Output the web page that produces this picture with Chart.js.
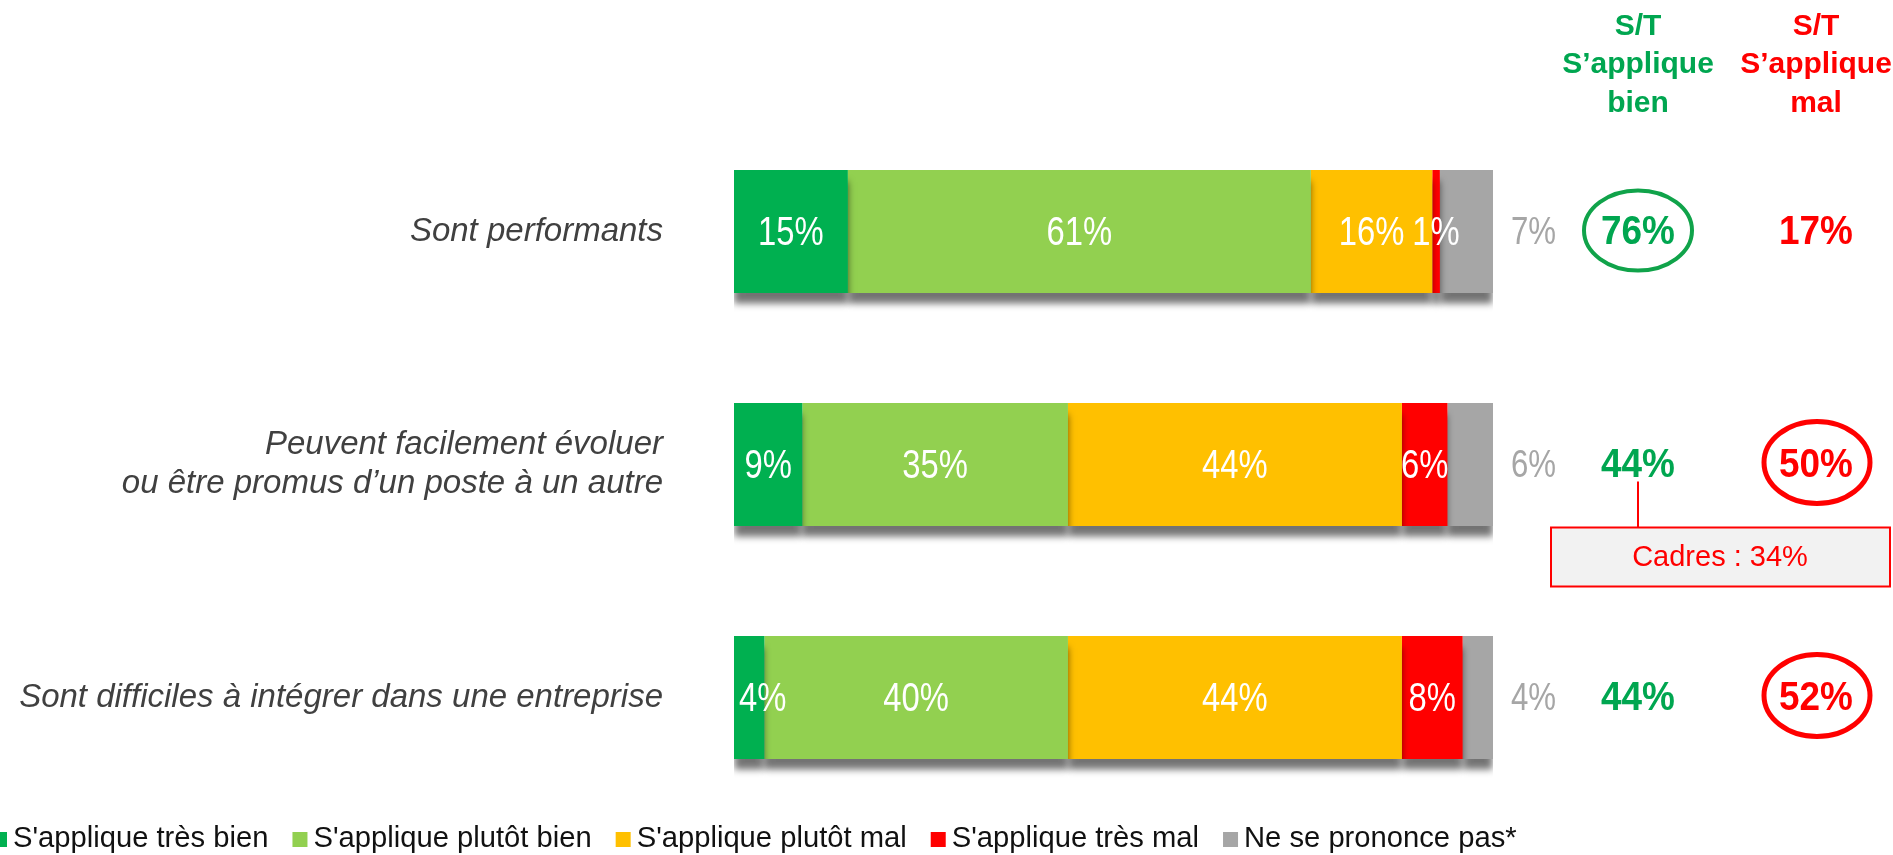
<!DOCTYPE html>
<html>
<head>
<meta charset="utf-8">
<script src="https://cdn.jsdelivr.net/npm/chart.js@4.4.1/dist/chart.umd.min.js"></script>
<style>
  html, body { margin: 0; background: #fff; }
  #wrap { width: 1893px; height: 855px; position: relative; }
</style>
</head>
<body>
<div id="wrap"><canvas id="chart"></canvas></div>
<script>
const categories = [
  'Sont performants',
  ['Peuvent facilement évoluer', 'ou être promus d’un poste à un autre'],
  'Sont difficiles à intégrer dans une entreprise'
];
const seriesNames = ["S'applique très bien", "S'applique plutôt bien", "S'applique plutôt mal", "S'applique très mal", 'Ne se prononce pas*'];
const tresBien = [15, 9, 4];
const plutotBien = [61, 35, 40];
const plutotMal = [16, 44, 44];
const tresMal = [1, 6, 8];
const neSePrononcePas = [7, 6, 4];

// sous-totaux affichés à droite
const stBien = [76, 44, 44];
const stMal = [17, 50, 52];
const circledBien = [true, false, false];
const circledMal = [false, true, true];
const cadresNote = 'Cadres : 34%';   // sous la ligne 2

const colors = ['#00b050', '#92d050', '#ffc000', '#ff0000', '#a6a6a6'];
const GREEN_TXT = '#00a650';
const RED_TXT = '#ff0000';
const SANS = '"Liberation Sans", Arial, sans-serif';

const allSeries = [tresBien, plutotBien, plutotMal, tresMal, neSePrononcePas];

// texte condensé horizontalement (pas de police étroite installée)
function narrowText(ctx, txt, x, y, sx) {
  ctx.save();
  ctx.translate(x, y);
  ctx.scale(sx, 1);
  ctx.fillText(txt, 0, 0);
  ctx.restore();
}

const overlay = {
  id: 'overlay',
  beforeDatasetsDraw(chart) {
    const ctx = chart.ctx;
    ctx.save();
    ctx.shadowColor = 'rgba(0,0,0,0.55)';
    ctx.shadowOffsetY = 11;
    ctx.shadowBlur = 7;
  },
  afterDatasetsDraw(chart) {
    const ctx = chart.ctx;
    ctx.restore();
    ctx.save();
    const last = chart.data.datasets.length - 1;
    const left = chart.chartArea.left;
    chart.data.datasets.forEach((ds, di) => {
      const meta = chart.getDatasetMeta(di);
      meta.data.forEach((bar, i) => {
        const { x, y, base } = bar.getProps(['x', 'y', 'base'], true);
        const txt = ds.data[i] + '%';
        ctx.textBaseline = 'middle';
        if (di === last) {
          ctx.font = '39px ' + SANS;
          ctx.fillStyle = '#a6a6a6';
          ctx.textAlign = 'left';
          narrowText(ctx, txt, x + 18, y + 2, 0.8);
        } else {
          ctx.font = '41px ' + SANS;
          ctx.fillStyle = '#ffffff';
          ctx.textAlign = 'center';
          const half = ctx.measureText(txt).width * 0.8 / 2;
          const cx = Math.max((x + base) / 2, left + half + 5);
          narrowText(ctx, txt, cx, y + 2, 0.8);
        }
      });
    });
    ctx.restore();
  },
  afterDraw(chart) {
    const ctx = chart.ctx;
    const colBien = 1638, colMal = 1816;
    ctx.save();

    // en-têtes des colonnes
    ctx.font = 'bold 30px ' + SANS;
    ctx.textAlign = 'center';
    ctx.textBaseline = 'alphabetic';
    const head = [['S/T', 35], ['S’applique', 73]];
    head.forEach(([t, yy]) => {
      ctx.fillStyle = GREEN_TXT; ctx.fillText(t, colBien, yy);
      ctx.fillStyle = RED_TXT; ctx.fillText(t, colMal, yy);
    });
    ctx.fillStyle = GREEN_TXT; ctx.fillText('bien', colBien, 112);
    ctx.fillStyle = RED_TXT; ctx.fillText('mal', colMal, 112);

    // sous-totaux
    const meta = chart.getDatasetMeta(0);
    meta.data.forEach((bar, i) => {
      const y = bar.y;
      ctx.font = 'bold 41px ' + SANS;
      ctx.textBaseline = 'middle';
      ctx.textAlign = 'center';
      ctx.fillStyle = GREEN_TXT;
      narrowText(ctx, stBien[i] + '%', colBien, y + 1, 0.9);
      ctx.fillStyle = RED_TXT;
      narrowText(ctx, stMal[i] + '%', colMal, y + 1, 0.9);
      if (circledBien[i]) {
        ctx.strokeStyle = '#10a34a'; ctx.lineWidth = 4;
        ctx.beginPath(); ctx.ellipse(colBien, y - 1, 54, 40, 0, 0, Math.PI * 2); ctx.stroke();
      }
      if (circledMal[i]) {
        ctx.strokeStyle = RED_TXT; ctx.lineWidth = 5;
        ctx.beginPath(); ctx.ellipse(colMal + 1, y - 2, 53, 41, 0, 0, Math.PI * 2); ctx.stroke();
      }
      if (i === 1) {
        ctx.strokeStyle = RED_TXT; ctx.lineWidth = 2;
        ctx.beginPath(); ctx.moveTo(colBien, y + 17); ctx.lineTo(colBien, y + 63); ctx.stroke();
        ctx.fillStyle = '#f2f2f2';
        ctx.fillRect(1551, y + 63, 339, 59);
        ctx.strokeRect(1551, y + 63, 339, 59);
        ctx.fillStyle = RED_TXT;
        ctx.font = '29px ' + SANS;
        ctx.fillText(cadresNote, 1720, y + 93);
      }
    });

    // légende
    ctx.font = '29.2px ' + SANS;
    ctx.textAlign = 'left';
    ctx.textBaseline = 'middle';
    let lx = -8;
    const ly = 840;
    chart.data.datasets.forEach(ds => {
      ctx.fillStyle = ds.backgroundColor;
      ctx.fillRect(lx, ly - 8, 15, 15);
      lx += 21;
      ctx.fillStyle = '#111111';
      ctx.fillText(ds.label, lx, ly - 1);
      lx += ctx.measureText(ds.label).width + 24;
    });
    ctx.restore();
  }
};

new Chart(document.getElementById('chart'), {
  type: 'bar',
  data: {
    labels: categories,
    datasets: allSeries.map((vals, k) => ({
      label: seriesNames[k],
      data: vals,
      backgroundColor: colors[k],
      borderWidth: 0,
      barPercentage: 0.528,
      categoryPercentage: 1
    }))
  },
  options: {
    indexAxis: 'y',
    responsive: true,
    maintainAspectRatio: false,
    animation: false,
    layout: { padding: { top: 115, bottom: 41, left: 0, right: 400 } },
    plugins: { legend: { display: false }, tooltip: { enabled: false } },
    scales: {
      x: { stacked: true, min: 0, max: 100, display: false },
      y: {
        stacked: true,
        grid: { display: false },
        border: { display: false },
        afterFit(scale) {
          scale.width = 734;
          scale.paddingTop = 0;
          scale.paddingBottom = 0;
        },
        ticks: {
          padding: 63,
          color: '#404040',
          font: { family: SANS, size: 33, style: 'italic', lineHeight: 1.2 }
        }
      }
    }
  },
  plugins: [overlay]
});
</script>
</body>
</html>
